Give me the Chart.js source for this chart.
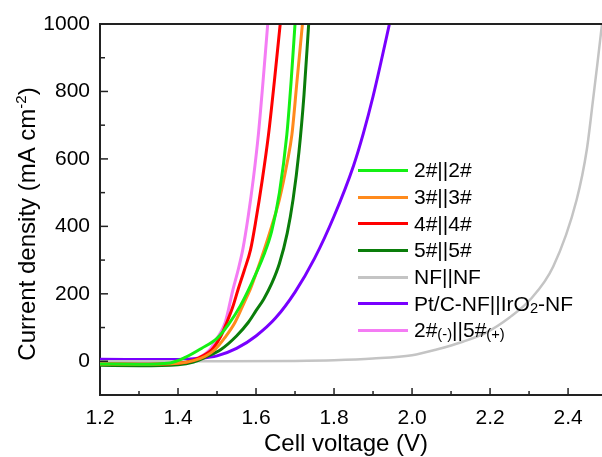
<!DOCTYPE html>
<html>
<head>
<meta charset="utf-8">
<script src="https://cdn.jsdelivr.net/npm/chart.js@4.4.1/dist/chart.umd.min.js"></script>
<style>
  body { margin: 0; background: #fff; }
  #wrap { position: relative; width: 602px; height: 457px; }
  #legend { position: absolute; left: 358px; top: 157px; font: 21px 'Liberation Sans', Arial, sans-serif; color: #000; }
  .row { display: flex; align-items: center; height: 26.7px; white-space: nowrap; }
  .swatch { width: 50px; height: 3px; margin-right: 6px; }
  .sm { font-size: 70%; line-height: 0; position: relative; top: 2px; }
</style>
</head>
<body>
<div id="wrap">
  <canvas id="lsv" width="602" height="457"></canvas>
  <div id="legend"></div>
</div>
<script>
// polarisation curves, cell voltage (V) vs current density (mA cm-2)
const xTicks = [1.2, 1.4, 1.6, 1.8, 2.0, 2.2, 2.4];
const yTicks = [0, 200, 400, 600, 800, 1000];

const names = ['2#||2#', '3#||3#', '4#||4#', '5#||5#', 'NF||NF', 'Pt/C-NF||IrO2-NF', '2#(-)||5#(+)'];
const colors = ['#14f014', '#ff8a1c', '#ff0000', '#0a7d0a', '#c4c4c4', '#7800ff', '#f47cf4'];

const v22 = [1.20, 1.30, 1.38, 1.42, 1.46, 1.50, 1.53, 1.56, 1.59, 1.62, 1.64, 1.66, 1.679, 1.69, 1.70];
const j22 = [-8, -9, -5, 12, 38, 68, 110, 165, 235, 315, 385, 500, 672, 830, 1000];

const v33 = [1.20, 1.30, 1.40, 1.44, 1.47, 1.495, 1.52, 1.546, 1.57, 1.585, 1.60, 1.621, 1.64, 1.66, 1.68, 1.692, 1.705, 1.719];
const j33 = [-8, -9, -6, 2, 15, 35, 70, 115, 175, 213, 260, 331, 400, 480, 590, 672, 830, 1000];

const v44 = [1.20, 1.30, 1.40, 1.44, 1.46, 1.487, 1.51, 1.525, 1.54, 1.554, 1.57, 1.586, 1.60, 1.615, 1.632, 1.647, 1.662];
const j44 = [-8, -9, -6, 3, 14, 35, 75, 115, 160, 213, 270, 331, 420, 530, 672, 830, 1000];

const v55 = [1.20, 1.30, 1.40, 1.44, 1.47, 1.51, 1.55, 1.58, 1.60, 1.62, 1.64, 1.66, 1.68, 1.695, 1.71, 1.723, 1.735];
const j55 = [-12, -13, -10, -2, 12, 35, 75, 115, 150, 185, 230, 290, 380, 480, 620, 790, 1000];

const vNF = [1.20, 1.50, 1.70, 1.80, 1.90, 2.00, 2.063, 2.13, 2.191, 2.25, 2.303, 2.362, 2.422, 2.448, 2.464, 2.475, 2.487];
const jNF = [0, 0, 1, 3, 8, 18, 35, 58, 86, 130, 183, 281, 479, 627, 775, 880, 1000];

const vPt = [1.20, 1.40, 1.45, 1.50, 1.55, 1.60, 1.65, 1.70, 1.75, 1.80, 1.85, 1.875, 1.90, 1.92, 1.942];
const jPt = [6, 5, 8, 16, 38, 75, 128, 205, 305, 430, 580, 675, 785, 885, 1000];

const v25 = [1.20, 1.30, 1.40, 1.43, 1.46, 1.482, 1.50, 1.521, 1.541, 1.555, 1.566, 1.58, 1.593, 1.606, 1.618, 1.630];
const j25 = [-3, -4, -3, 3, 15, 35, 68, 115, 213, 275, 331, 430, 540, 672, 830, 1000];

const voltages = [v22, v33, v44, v55, vNF, vPt, v25];
const currents = [j22, j33, j44, j55, jNF, jPt, j25];

const font = "'Liberation Sans', Arial, sans-serif";
const axisColor = '#222';

const datasets = names.map((name, i) => ({
  label: name,
  data: voltages[i].map((v, k) => ({ x: v, y: currents[i][k] })),
  borderColor: colors[i],
  backgroundColor: colors[i],
  borderWidth: i === 4 ? 2.5 : 3,
  pointRadius: 0,
  cubicInterpolationMode: 'monotone'
}));

// inward tick marks, top frame line and the two axis titles
const frame = {
  id: 'frame',
  afterDraw(chart) {
    const { ctx, chartArea: a, scales: { x, y } } = chart;
    ctx.save();
    ctx.strokeStyle = axisColor;
    ctx.lineWidth = 2;
    ctx.beginPath();
    ctx.moveTo(a.left - 1, a.top);
    ctx.lineTo(a.right, a.top);
    ctx.stroke();
    ctx.lineWidth = 1.5;
    const seg = (x1, y1, x2, y2) => { ctx.beginPath(); ctx.moveTo(x1, y1); ctx.lineTo(x2, y2); ctx.stroke(); };
    xTicks.forEach(v => {
      const px = x.getPixelForValue(v);
      seg(px, a.bottom, px, a.bottom - 7);
      const m = x.getPixelForValue(v + 0.1);
      if (m < a.right) seg(m, a.bottom, m, a.bottom - 4);
    });
    yTicks.forEach(v => {
      const py = y.getPixelForValue(v);
      seg(a.left, py, a.left + 8, py);
      const m = y.getPixelForValue(v - 100);
      if (m < a.bottom - 1) seg(a.left, m, a.left + 5, m);
    });

    ctx.fillStyle = '#000';
    ctx.textBaseline = 'alphabetic';
    ctx.font = `24px ${font}`;
    ctx.textAlign = 'center';
    ctx.fillText('Cell voltage (V)', 346, 451);

    // y title with a raised -2 exponent
    const main = 'Current density (mA cm', sup = '-2', tail = ')';
    ctx.textAlign = 'left';
    const w1 = ctx.measureText(main).width, w3 = ctx.measureText(tail).width;
    ctx.font = `15px ${font}`;
    const w2 = ctx.measureText(sup).width;
    ctx.translate(35, 224);
    ctx.rotate(-Math.PI / 2);
    let pos = -(w1 + w2 + w3) / 2;
    ctx.font = `24px ${font}`;
    ctx.fillText(main, pos, 0);
    pos += w1;
    ctx.font = `15px ${font}`;
    ctx.fillText(sup, pos, -9);
    pos += w2;
    ctx.font = `24px ${font}`;
    ctx.fillText(tail, pos, 0);
    ctx.restore();
  }
};

const chart = new Chart(document.getElementById('lsv'), {
  type: 'line',
  data: { datasets },
  options: {
    responsive: false,
    animation: false,
    layout: { padding: { top: 24, right: 0, left: 0, bottom: 0 } },
    plugins: { legend: { display: false }, tooltip: { enabled: false } },
    scales: {
      x: {
        type: 'linear',
        min: 1.2,
        max: 2.487,
        afterBuildTicks: s => { s.ticks = xTicks.map(v => ({ value: v })); },
        afterFit: s => { s.height = 62; },
        grid: { display: false, drawTicks: false },
        border: { display: true, color: axisColor, width: 2 },
        ticks: { callback: v => v.toFixed(1), color: '#000', font: { family: font, size: 21 }, padding: 11, maxRotation: 0, autoSkip: false }
      },
      y: {
        type: 'linear',
        min: -100,
        max: 1000,
        afterBuildTicks: s => { s.ticks = yTicks.map(v => ({ value: v })); },
        afterFit: s => { s.width = 100; },
        grid: { display: false, drawTicks: false },
        border: { display: true, color: axisColor, width: 2 },
        ticks: { callback: v => String(v), color: '#000', font: { family: font, size: 21 }, padding: 10 }
      }
    }
  },
  plugins: [frame]
});

// legend drawn as html so the sub-sized parts of the labels keep their size
const legend = document.getElementById('legend');
chart.data.datasets.forEach(ds => {
  const row = document.createElement('div');
  row.className = 'row';
  const sw = document.createElement('span');
  sw.className = 'swatch';
  sw.style.background = ds.borderColor;
  const txt = document.createElement('span');
  txt.innerHTML = ds.label
    .replace('O2', 'O<span class="sm">2</span>')
    .replace(/\(([-+])\)/g, '<span class="sm">($1)</span>');
  row.appendChild(sw);
  row.appendChild(txt);
  legend.appendChild(row);
});
</script>
</body>
</html>
